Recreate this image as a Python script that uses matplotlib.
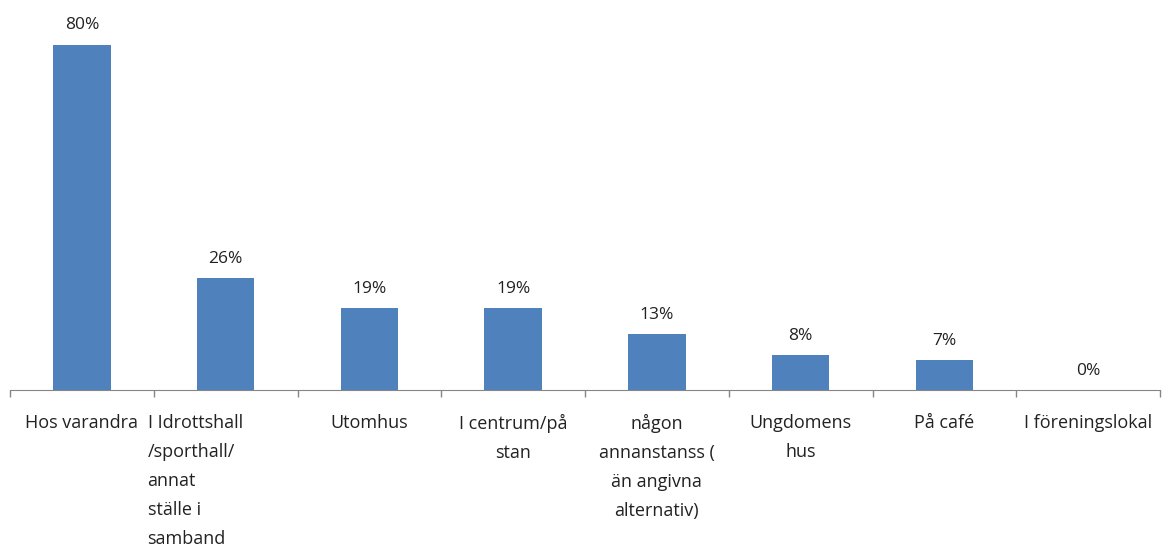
import matplotlib.pyplot as plt
import matplotlib.transforms as mtransforms
import numpy as np

# Kategorier och värden (procent)
kategorier = ['Hos varandra',
              'I Idrottshall\n/sporthall/\nannat\nställe i\nsamband',
              'Utomhus',
              'I centrum/på\nstan',
              'någon\nannanstanss (\nän angivna\nalternativ)',
              'Ungdomens\nhus',
              'På café',
              'I föreningslokal']
varden = [80, 26, 19, 19, 13, 8, 7, 0]

plt.rcParams['font.family'] = ['Open Sans', 'DejaVu Sans']

fig = plt.figure(figsize=(11.66, 5.52), dpi=100)
ax = fig.add_axes([10 / 1166, 162 / 552, 1150 / 1166, 380 / 552])

x = np.arange(len(kategorier))
ax.bar(x, varden, width=0.4, color='#4F81BD', zorder=2)

for xi, v in zip(x, varden):
    ax.annotate(f'{v}%', (xi, v), xytext=(0, 8), textcoords='offset points',
                ha='center', va='bottom', fontsize=12.5, color='#222222')

ax.set_xlim(-0.5, len(kategorier) - 0.5)
ax.set_ylim(0, 88)

# tick marks at category boundaries
ax.set_xticks(np.arange(len(kategorier) + 1) - 0.5)
ax.set_xticklabels([])
ax.tick_params(axis='x', length=5, color='#868686', width=1)
ax.set_xticks(x, minor=True)
ax.set_xticklabels(kategorier, minor=True, fontsize=13, linespacing=1.8,
                   color='#222222')
ax.tick_params(axis='x', which='minor', length=0, pad=17)
ax.set_yticks([])

for lbl in ax.get_xticklabels(minor=True):
    if lbl.get_text().startswith('I Idrottshall'):
        lbl.set_horizontalalignment('left')
        lbl.set_transform(lbl.get_transform() +
                          mtransforms.ScaledTranslation(-78 / 100, 0, fig.dpi_scale_trans))

for side in ['left', 'right', 'top']:
    ax.spines[side].set_visible(False)
ax.spines['bottom'].set_color('#868686')

fig.savefig('out.png', dpi=100)
